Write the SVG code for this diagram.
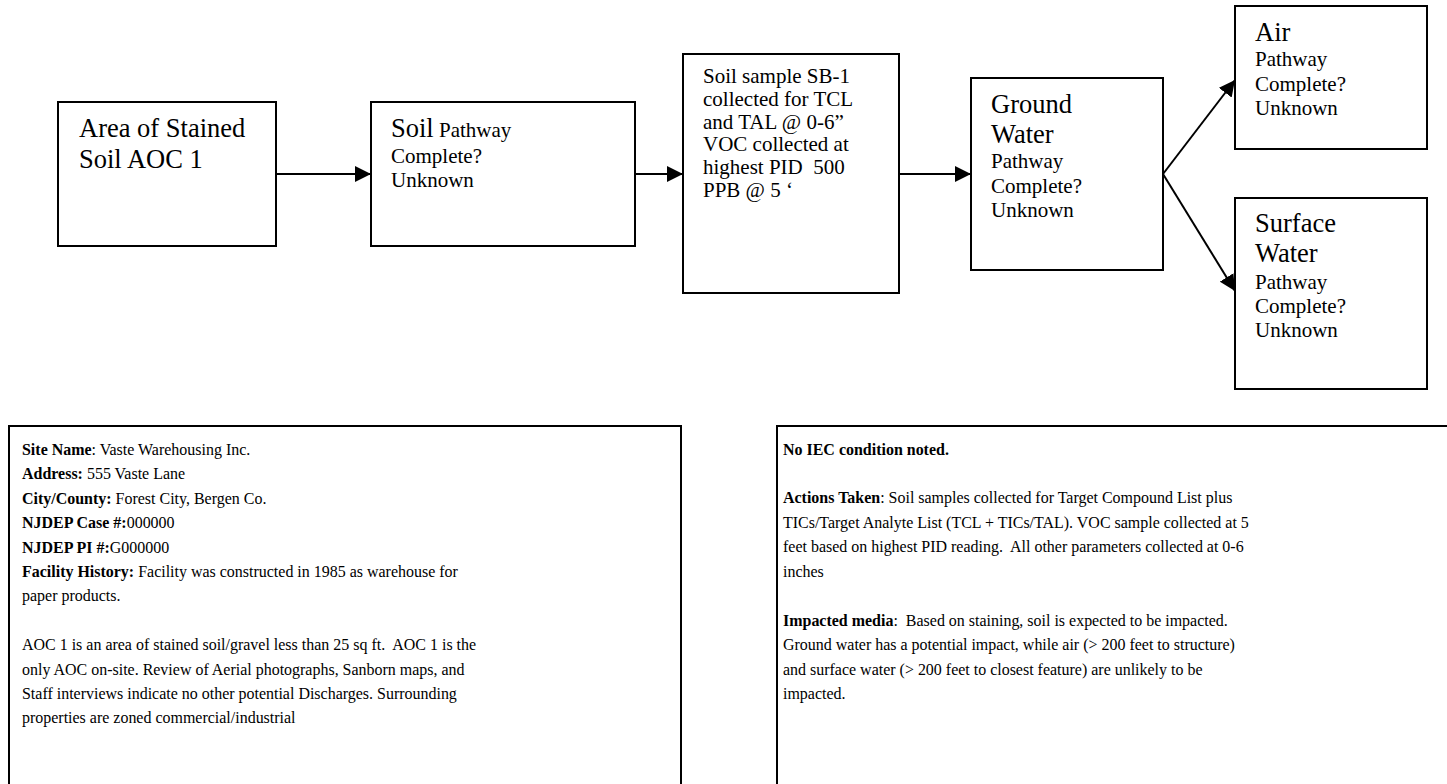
<svg xmlns="http://www.w3.org/2000/svg" width="1447" height="784" viewBox="0 0 1447 784">
  <defs>
    <style>
      .box { fill: #ffffff; stroke: #000000; stroke-width: 2; }
      .edge { fill: none; stroke: #000000; stroke-width: 2; }
      text { font-family: "Liberation Serif", "Times New Roman", serif; fill: #000000; white-space: pre; }
      .big { font-size: 26.5px; }
      .small { font-size: 21px; }
      .note { font-size: 17px; }
      .b { font-weight: bold; }
    </style>
    <marker id="arrow" markerUnits="userSpaceOnUse" markerWidth="18" markerHeight="16" refX="16" refY="8" orient="auto">
      <path d="M0,0 L16,8 L0,16 Z" fill="#000000"/>
    </marker>
  </defs>
  <rect width="1447" height="784" fill="#ffffff"/>

  <!-- connectors -->
  <g id="connectors">
    <line class="edge" x1="276" y1="174" x2="371" y2="174" marker-end="url(#arrow)"/>
    <line class="edge" x1="635" y1="174" x2="683" y2="174" marker-end="url(#arrow)"/>
    <line class="edge" x1="899" y1="174" x2="971" y2="174" marker-end="url(#arrow)"/>
    <line class="edge" x1="1163" y1="174" x2="1235" y2="80" marker-end="url(#arrow)"/>
    <line class="edge" x1="1163" y1="174" x2="1235" y2="291" marker-end="url(#arrow)"/>
  </g>

  <!-- flow nodes -->
  <g id="node-aoc">
    <rect class="box" x="58" y="102" width="218" height="144"/>
    <text class="big" x="79" y="137">Area of Stained</text>
    <text class="big" x="79" y="168">Soil AOC 1</text>
  </g>

  <g id="node-soil">
    <rect class="box" x="371" y="102" width="264" height="144"/>
    <text x="391" y="137"><tspan class="big">Soil</tspan><tspan class="small"> Pathway</tspan></text>
    <text class="small" x="391" y="163">Complete?</text>
    <text class="small" x="391" y="187">Unknown</text>
  </g>

  <g id="node-sample">
    <rect class="box" x="683" y="54" width="216" height="239"/>
    <text class="small" x="703" y="83">Soil sample SB-1</text>
    <text class="small" x="703" y="106">collected for TCL</text>
    <text class="small" x="703" y="128.5">and TAL @ 0-6”</text>
    <text class="small" x="703" y="151">VOC collected at</text>
    <text class="small" x="703" y="174">highest PID  500</text>
    <text class="small" x="703" y="197">PPB @ 5 ‘</text>
  </g>

  <g id="node-groundwater">
    <rect class="box" x="971" y="78" width="192" height="192"/>
    <text class="big" x="991" y="113">Ground</text>
    <text class="big" x="991" y="143">Water</text>
    <text class="small" x="991" y="168">Pathway</text>
    <text class="small" x="991" y="193">Complete?</text>
    <text class="small" x="991" y="217">Unknown</text>
  </g>

  <g id="node-air">
    <rect class="box" x="1235" y="6" width="192" height="143"/>
    <text class="big" x="1255" y="41">Air</text>
    <text class="small" x="1255" y="66">Pathway</text>
    <text class="small" x="1255" y="90.5">Complete?</text>
    <text class="small" x="1255" y="114.5">Unknown</text>
  </g>

  <g id="node-surfacewater">
    <rect class="box" x="1235" y="198" width="192" height="191"/>
    <text class="big" x="1255" y="232">Surface</text>
    <text class="big" x="1255" y="262">Water</text>
    <text class="small" x="1255" y="288.5">Pathway</text>
    <text class="small" x="1255" y="313">Complete?</text>
    <text class="small" x="1255" y="337">Unknown</text>
  </g>

  <!-- site information panel (text set slightly narrow) -->
  <g id="site-info">
    <path class="edge" d="M9,790 L9,426 L681,426 L681,790"/>
    <g transform="matrix(0.94,0,0,1,1.32,0)">
      <text class="note" x="22" y="455"><tspan class="b">Site Name</tspan>: Vaste Warehousing Inc.</text>
      <text class="note" x="22" y="479.4"><tspan class="b">Address:</tspan> 555 Vaste Lane</text>
      <text class="note" x="22" y="503.8"><tspan class="b">City/County:</tspan> Forest City, Bergen Co.</text>
      <text class="note" x="22" y="528.2"><tspan class="b">NJDEP Case #:</tspan>000000</text>
      <text class="note" x="22" y="552.6"><tspan class="b">NJDEP PI #:</tspan>G000000</text>
      <text class="note" x="22" y="577"><tspan class="b">Facility History:</tspan> Facility was constructed in 1985 as warehouse for</text>
      <text class="note" x="22" y="601.4">paper products.</text>
      <text class="note" x="22" y="650.2">AOC 1 is an area of stained soil/gravel less than 25 sq ft.  AOC 1 is the</text>
      <text class="note" x="22" y="674.6">only AOC on-site. Review of Aerial photographs, Sanborn maps, and</text>
      <text class="note" x="22" y="699">Staff interviews indicate no other potential Discharges. Surrounding</text>
      <text class="note" x="22" y="723.4">properties are zoned commercial/industrial</text>
    </g>
  </g>

  <!-- findings panel (text set slightly narrow) -->
  <g id="findings">
    <path class="edge" d="M777,790 L777,426 L1450,426"/>
    <g transform="matrix(0.94,0,0,1,46.98,0)">
      <text class="note b" x="783" y="455">No IEC condition noted.</text>
      <text class="note" x="783" y="503.5"><tspan class="b">Actions Taken</tspan>: Soil samples collected for Target Compound List plus</text>
      <text class="note" x="783" y="528">TICs/Target Analyte List (TCL + TICs/TAL). VOC sample collected at 5</text>
      <text class="note" x="783" y="552.4">feet based on highest PID reading.  All other parameters collected at 0-6</text>
      <text class="note" x="783" y="576.8">inches</text>
      <text class="note" x="783" y="626"><tspan class="b">Impacted media</tspan>:  Based on staining, soil is expected to be impacted.</text>
      <text class="note" x="783" y="650.4">Ground water has a potential impact, while air (&gt; 200 feet to structure)</text>
      <text class="note" x="783" y="674.8">and surface water (&gt; 200 feet to closest feature) are unlikely to be</text>
      <text class="note" x="783" y="699.2">impacted.</text>
    </g>
  </g>
</svg>
